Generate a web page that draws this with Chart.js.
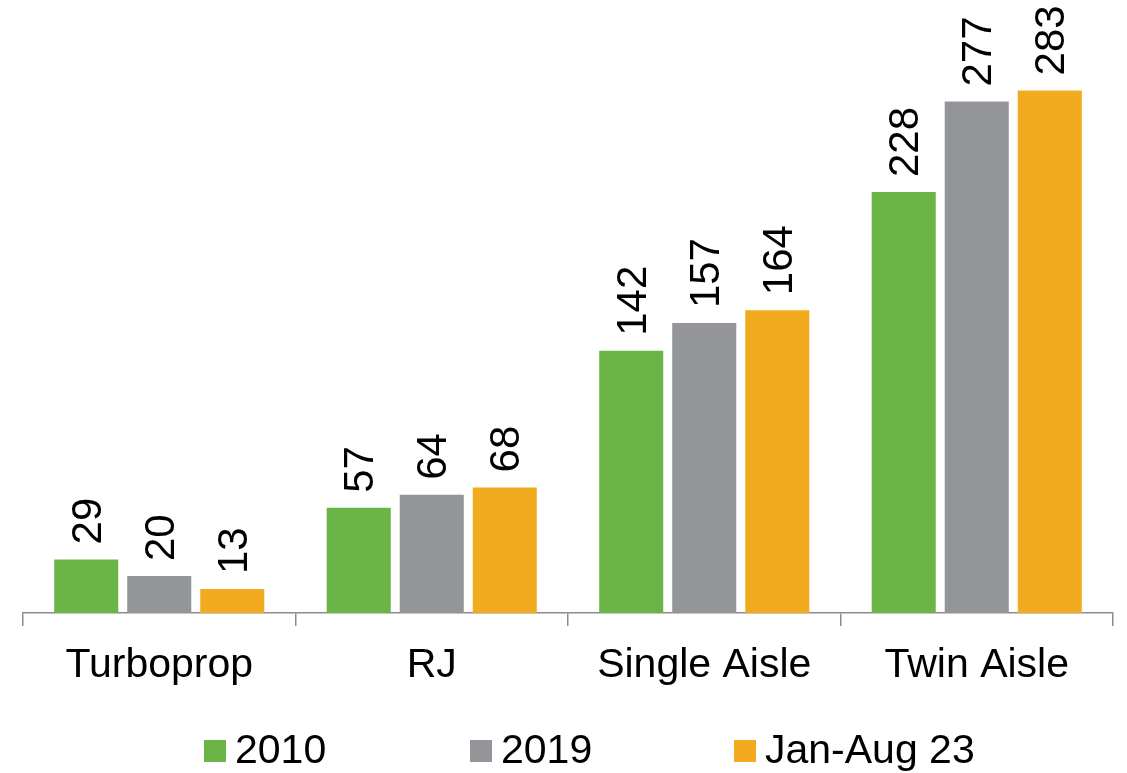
<!DOCTYPE html>
<html>
<head>
<meta charset="utf-8">
<script src="https://cdn.jsdelivr.net/npm/chart.js@4/dist/chart.umd.min.js"></script>
<style>
html,body{margin:0;padding:0;background:#fff;}
#wrap{width:1127px;height:773px;position:relative;}
</style>
</head>
<body>
<div id="wrap"><canvas id="c"></canvas></div>
<script>
const categories = ['Turboprop', 'RJ', 'Single Aisle', 'Twin Aisle'];
const values2010 = [29, 57, 142, 228];
const values2019 = [20, 64, 157, 277];
const valuesJanAug23 = [13, 68, 164, 283];
const seriesNames = ['2010', '2019', 'Jan-Aug 23'];
const seriesColors = ['#6BB546', '#939598', '#F2AA1E'];

const FONT = '"Liberation Sans", Arial, sans-serif';

const valueLabels = {
  id: 'valueLabels',
  afterDatasetsDraw(chart) {
    const ctx = chart.ctx;
    ctx.save();
    ctx.font = '42px ' + FONT;
    ctx.fillStyle = '#000';
    ctx.textAlign = 'left';
    ctx.textBaseline = 'alphabetic';
    chart.data.datasets.forEach((ds, di) => {
      const meta = chart.getDatasetMeta(di);
      meta.data.forEach((bar, i) => {
        ctx.save();
        ctx.translate(bar.x + 14.5, bar.y - 15);
        ctx.rotate(-Math.PI / 2);
        ctx.fillText(String(ds.data[i]), 0, 0);
        ctx.restore();
      });
    });
    ctx.restore();
  }
};

const customLegend = {
  id: 'customLegend',
  afterDraw(chart) {
    const ctx = chart.ctx;
    const starts = [204, 470, 734];
    ctx.save();
    ctx.font = '41px ' + FONT;
    ctx.textAlign = 'left';
    ctx.textBaseline = 'alphabetic';
    chart.data.datasets.forEach((ds, i) => {
      const x = starts[i];
      ctx.fillStyle = ds.backgroundColor;
      ctx.fillRect(x, 740, 22, 22);
      ctx.fillStyle = '#000';
      ctx.fillText(ds.label, x + 31, 763);
    });
    ctx.restore();
  }
};

new Chart(document.getElementById('c'), {
  type: 'bar',
  data: {
    labels: categories,
    datasets: [
      { label: seriesNames[0], data: values2010, backgroundColor: seriesColors[0] },
      { label: seriesNames[1], data: values2019, backgroundColor: seriesColors[1] },
      { label: seriesNames[2], data: valuesJanAug23, backgroundColor: seriesColors[2] }
    ]
  },
  options: {
    responsive: true,
    maintainAspectRatio: false,
    animation: false,
    categoryPercentage: 0.804,
    barPercentage: 0.877,
    layout: { padding: { left: 23, right: 14, top: 0, bottom: 0 } },
    plugins: {
      legend: { display: false },
      tooltip: { enabled: false }
    },
    scales: {
      x: {
        grid: {
          offset: true,
          drawOnChartArea: false,
          drawTicks: true,
          tickLength: 13,
          color: '#8C8C8C',
          lineWidth: 1.5
        },
        border: { display: true, color: '#8C8C8C', width: 1.5 },
        ticks: {
          color: '#000',
          padding: 15,
          font: { family: FONT, size: 41 },
          maxRotation: 0
        },
        afterFit(scale) { scale.height = 160; }
      },
      y: {
        display: false,
        min: 0,
        max: 332
      }
    }
  },
  plugins: [valueLabels, customLegend]
});
</script>
</body>
</html>
